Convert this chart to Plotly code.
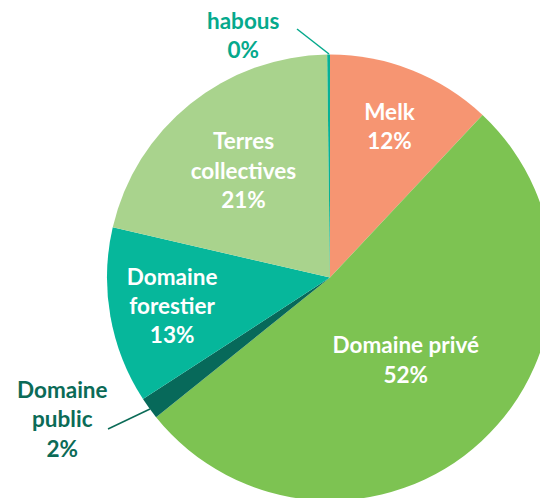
import plotly.graph_objects as go

# Répartition par statut foncier (%)
labels = ["Melk", "Domaine privé", "Domaine public", "Domaine forestier", "Terres collectives", "habous"]
values = [12.0, 52.3, 1.6, 12.8, 21.2, 0.2]
text_labels = ["Melk", "Domaine privé", "Domaine<br>public", "Domaine<br>forestier", "Terres<br>collectives", "habous"]
colors = ["#F69572", "#7DC352", "#07695A", "#06B79B", "#A9D38D", "#08B194"]

W, H = 548, 498
FONT = "Lato"
# la page a une marge de 8 px : positions en pixels de la figure
cx, cy, r = 322, 269.6, 223

fig = go.Figure()

fig.add_trace(go.Pie(
    labels=labels,
    values=values,
    text=text_labels,
    sort=False,
    direction="clockwise",
    rotation=0,
    marker=dict(colors=colors, line=dict(width=0)),
    textinfo="none",
    texttemplate=["%{text}<br>%{percent:.0%}"] * 2 + [""] + ["%{text}<br>%{percent:.0%}"] * 2 + [""],
    textposition="inside",
    insidetextorientation="horizontal",
    insidetextfont=dict(family=FONT, size=22.5, color="white", weight="bold"),
    domain=dict(x=[(cx - r) / W, (cx + r) / W], y=[1 - (cy + r) / H, 1 - (cy - r) / H]),
    hoverinfo="label+percent",
    showlegend=False,
))

# labels extérieurs pour les petites parts
fig.add_annotation(x=235 / W, y=1 - 27 / H, xref="paper", yref="paper",
                   xanchor="center", yanchor="middle",
                   text="<b>habous<br>0%</b>", showarrow=False,
                   font=dict(family=FONT, size=22.5, color="#05A98C"))
fig.add_annotation(x=54 / W, y=1 - 411 / H, xref="paper", yref="paper",
                   xanchor="center", yanchor="middle",
                   text="<b>Domaine<br>public<br>2%</b>", showarrow=False,
                   font=dict(family=FONT, size=22.5, color="#0B6B57"))

# traits de rappel
fig.add_shape(type="line", xref="paper", yref="paper",
              x0=289 / W, y0=1 - 21 / H, x1=321 / W, y1=1 - 46 / H,
              line=dict(color="#05A98C", width=1.5))
fig.add_shape(type="line", xref="paper", yref="paper",
              x0=100 / W, y0=1 - 421 / H, x1=142 / W, y1=1 - 401 / H,
              line=dict(color="#0B6B57", width=1.5))

fig.update_layout(
    width=W,
    height=H,
    margin=dict(l=0, r=0, t=0, b=0),
    paper_bgcolor="white",
    plot_bgcolor="white",
)

fig.write_html("out.html")
